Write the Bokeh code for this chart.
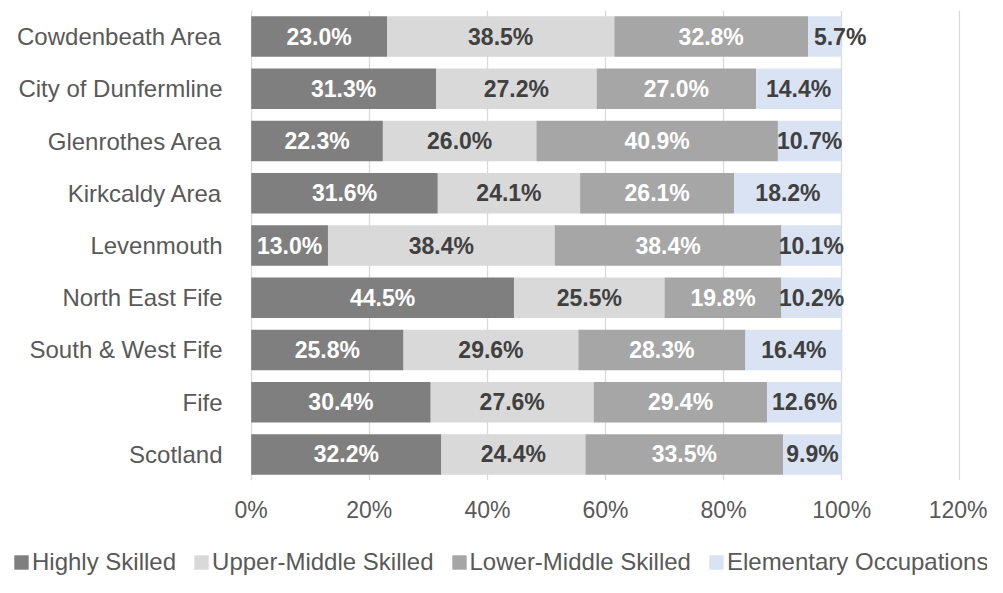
from bokeh.plotting import figure
from bokeh.layouts import column
from bokeh.models import ColumnDataSource, FactorRange, FixedTicker, Legend, LegendItem, Range1d
from bokeh.core.properties import value
from bokeh.embed import file_html
from bokeh.resources import INLINE

categories = ["Cowdenbeath Area", "City of Dunfermline", "Glenrothes Area", "Kirkcaldy Area",
              "Levenmouth", "North East Fife", "South & West Fife", "Fife", "Scotland"]
series_names = ["Highly Skilled", "Upper-Middle Skilled", "Lower-Middle Skilled", "Elementary Occupations"]
highly = [23.0, 31.3, 22.3, 31.6, 13.0, 44.5, 25.8, 30.4, 32.2]
upper = [38.5, 27.2, 26.0, 24.1, 38.4, 25.5, 29.6, 27.6, 24.4]
lower = [32.8, 27.0, 40.9, 26.1, 38.4, 19.8, 28.3, 29.4, 33.5]
elem = [5.7, 14.4, 10.7, 18.2, 10.1, 10.2, 16.4, 12.6, 9.9]
tick_values = [0, 20, 40, 60, 80, 100, 120]
tick_labels = ["0%", "20%", "40%", "60%", "80%", "100%", "120%"]

colors = ["#7f7f7f", "#d9d9d9", "#a6a6a6", "#dae3f3"]
label_colors = ["#ffffff", "#404040", "#ffffff", "#404040"]
series = [highly, upper, lower, elem]
keys = ["highly", "upper", "lower", "elem"]

FONT = "Liberation Sans"

data = {"cat": categories}
for k, s in zip(keys, series):
    data[k] = s
source = ColumnDataSource(data)

p = figure(width=987, height=530, output_backend="svg", toolbar_location=None,
           y_range=FactorRange(factors=categories[::-1], range_padding=0),
           x_range=Range1d(-0.12, 120.12),
           min_border_left=250, min_border_right=27, min_border_top=10, min_border_bottom=50)
p.outline_line_color = None
p.background_fill_color = "white"
p.border_fill_color = "white"
p.frame_align = False

renderers = p.hbar_stack(keys, y="cat", height=0.776, color=colors, line_color=None, source=source)

# labels
center_src = {"x": [], "y": [], "t": [], "c": []}
left_src = {"x": [], "y": [], "t": [], "c": []}
starts = [0.0] * len(categories)
for s, lc in zip(series, label_colors):
    for i, v in enumerate(s):
        st = starts[i]
        txt = f"{v:.1f}%"
        if v < 8:
            d = left_src
            d["x"].append(st + 1.0)
        else:
            d = center_src
            d["x"].append(st + v / 2)
        d["y"].append(categories[i])
        d["t"].append(txt)
        d["c"].append(lc)
        starts[i] = st + v

for d, align in ((center_src, "center"), (left_src, "left")):
    p.text(x="x", y="y", text="t", text_color="c", source=ColumnDataSource(d),
           text_align=align, text_baseline="middle",
           text_font=value(FONT), text_font_style="bold", text_font_size="23px")

# axes
p.xaxis.ticker = FixedTicker(ticks=tick_values)
p.xaxis.major_label_overrides = {v: l for v, l in zip(tick_values, tick_labels)}
p.xaxis.axis_line_color = None
p.xaxis.major_tick_line_color = None
p.xaxis.minor_tick_line_color = None
p.xaxis.major_label_standoff = 10
p.xaxis.major_label_text_font = FONT
p.xaxis.major_label_text_font_size = "23px"
p.xaxis.major_label_text_color = "#595959"

p.yaxis.axis_line_color = None
p.yaxis.major_tick_line_color = None
p.yaxis.minor_tick_line_color = None
p.yaxis.major_label_standoff = 22
p.yaxis.major_label_text_font = FONT
p.yaxis.major_label_text_font_size = "24px"
p.yaxis.major_label_text_color = "#595959"

p.xgrid.grid_line_color = "#d9d9d9"
p.xgrid.grid_line_width = 1.3
p.ygrid.grid_line_color = None

# legend strip
p2 = figure(width=987, height=47, output_backend="svg", toolbar_location=None,
            x_range=Range1d(0, 1), y_range=Range1d(0, 1),
            x_axis_location=None, y_axis_location=None, min_border=0)
p2.outline_line_color = None
p2.grid.grid_line_color = None
p2.border_fill_color = "white"
p2.frame_align = False
leg_renderers = [p2.rect(x=[-5], y=[-5], width=0.1, height=0.1, color=c, line_color=None) for c in colors]
legend = Legend(items=[LegendItem(label=n, renderers=[r]) for n, r in zip(series_names, leg_renderers)],
                orientation="horizontal", location=(12, 1),
                glyph_width=18, glyph_height=18, label_standoff=2, spacing=16,
                padding=0, margin=0, border_line_color=None, background_fill_alpha=0,
                label_text_font=FONT, label_text_font_size="24px", label_text_color="#595959")
p2.add_layout(legend, "center")

layout = column(p, p2, spacing=0)
open("out.html", "w").write(file_html(layout, INLINE))
